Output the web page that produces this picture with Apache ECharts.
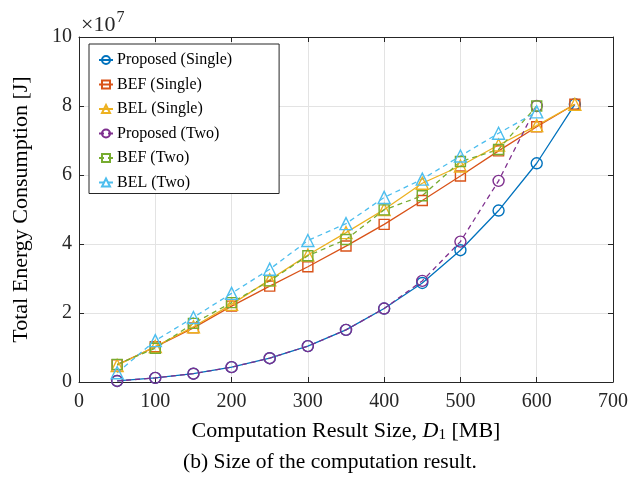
<!DOCTYPE html>
<html>
<head>
<meta charset="utf-8">
<script src="https://cdn.jsdelivr.net/npm/echarts@6/dist/echarts.min.js"></script>
<style>
  html, body { margin: 0; padding: 0; background: #fff; }
  #chart { width: 631px; height: 479px; }
</style>
</head>
<body>
<div id="chart"></div>
<script>
// D1 sizes [MB]
const sizesSingle = [50, 100, 150, 200, 250, 300, 350, 400, 450, 500, 550, 600, 650]
const sizesTwo = [50, 100, 150, 200, 250, 300, 350, 400, 450, 500, 550, 600]

// energy, x 1e7 J
const proposedSingle = [0.03, 0.12, 0.24, 0.43, 0.69, 1.04, 1.51, 2.13, 2.87, 3.82, 4.97, 6.34, 8.05]
const befSingle = [0.50, 1.02, 1.57, 2.20, 2.78, 3.34, 3.94, 4.57, 5.26, 5.97, 6.70, 7.40, 8.05]
const belSingle = [0.48, 1.03, 1.60, 2.25, 2.96, 3.68, 4.33, 5.00, 5.76, 6.26, 6.87, 7.43, 8.05]
const proposedTwo = [0.03, 0.12, 0.24, 0.43, 0.69, 1.04, 1.51, 2.13, 2.93, 4.07, 5.83, 8.00]
const befTwo = [0.51, 0.98, 1.70, 2.30, 2.93, 3.66, 4.13, 4.99, 5.40, 6.39, 6.74, 8.00]
const belTwo = [0.27, 1.20, 1.87, 2.57, 3.27, 4.10, 4.59, 5.35, 5.88, 6.55, 7.21, 7.83]

const xTicks = [0, 100, 200, 300, 400, 500, 600, 700]
const yTicks = [0, 2, 4, 6, 8, 10]

const font = "'Liberation Serif', 'Times New Roman', serif"
const axisColor = '#262626'

const pairs = (xs, ys) => xs.map((x, i) => [x, ys[i]])

const makeSeries = (name, xs, ys, color, symbol, size, dashed) => ({
  name: name,
  type: 'line',
  data: pairs(xs, ys),
  symbol: symbol,
  symbolSize: size,
  showSymbol: true,
  lineStyle: { color: color, width: 1.3, type: dashed ? [5, 4] : 'solid' },
  // hollow markers, line shows through them
  itemStyle: { color: 'rgba(255,255,255,0)', borderColor: color, borderWidth: 1.4 },
  emphasis: { disabled: true },
  animation: false,
  z: 3
})

const chart = echarts.init(document.getElementById('chart'))

const baseX = {
  type: 'value',
  min: xTicks[0],
  max: xTicks[xTicks.length - 1],
  interval: 100,
  axisLine: { show: true, onZero: false, lineStyle: { color: axisColor, width: 1 } },
  axisTick: { show: true, inside: true, length: 5, lineStyle: { color: axisColor } },
  splitLine: { show: false }
}
const baseY = {
  type: 'value',
  min: yTicks[0],
  max: yTicks[yTicks.length - 1],
  interval: 2,
  axisLine: { show: true, onZero: false, lineStyle: { color: axisColor, width: 1 } },
  axisTick: { show: true, inside: true, length: 5, lineStyle: { color: axisColor } },
  splitLine: { show: false }
}

chart.setOption({
  backgroundColor: '#fff',
  animation: false,
  grid: { left: 79, right: 18, top: 37, bottom: 97 },
  legend: {
    left: 89,
    top: 44,
    orient: 'vertical',
    backgroundColor: '#fff',
    borderColor: '#262626',
    borderWidth: 1,
    borderRadius: 0,
    padding: [8, 47, 3, 9],
    itemWidth: 14,
    itemHeight: 10,
    itemGap: 8.5,
    textStyle: { fontFamily: font, fontSize: 16, color: '#000', padding: [0, 0, 0, -1] },
    data: ['Proposed (Single)', 'BEF (Single)', 'BEL (Single)', 'Proposed (Two)', 'BEF (Two)', 'BEL (Two)']
  },
  xAxis: [
    Object.assign({}, baseX, {
      position: 'bottom',
      name: '{n|Computation Result Size, }{i|D}{s|1}{n| [MB]}',
      nameLocation: 'middle',
      nameGap: 38,
      nameTextStyle: {
        rich: {
          n: { fontFamily: font, fontSize: 22, color: '#000' },
          i: { fontFamily: font, fontSize: 22, fontStyle: 'italic', color: '#000' },
          s: { fontFamily: font, fontSize: 15, color: '#000', padding: [8, 0, 0, 0] }
        }
      },
      axisLabel: { fontFamily: font, fontSize: 20, color: '#262626', margin: 10 },
      splitLine: { show: true, lineStyle: { color: '#e3e3e3', width: 1 } }
    }),
    Object.assign({}, baseX, {
      position: 'top',
      axisLabel: { show: false }
    })
  ],
  yAxis: [
    Object.assign({}, baseY, {
      position: 'left',
      name: 'Total Energy Consumption [J]',
      nameLocation: 'middle',
      nameGap: 47,
      nameTextStyle: { fontFamily: font, fontSize: 22, color: '#000' },
      axisLabel: { fontFamily: font, fontSize: 20, color: '#262626', margin: 7 },
      splitLine: { show: true, lineStyle: { color: '#e3e3e3', width: 1 } }
    }),
    Object.assign({}, baseY, {
      position: 'right',
      axisLabel: { show: false }
    })
  ],
  graphic: [
    {
      type: 'text',
      left: 81,
      top: 10,
      style: {
        text: '{a|×10}{b|7}',
        rich: {
          a: { fontFamily: font, fontSize: 22, fill: '#262626', padding: [9, 0, 0, 0] },
          b: { fontFamily: font, fontSize: 16, fill: '#262626', padding: [0, 0, 6, 1] }
        }
      }
    },
    {
      type: 'text',
      left: 183,
      top: 451,
      style: {
        text: '(b) Size of the computation result.',
        fontFamily: font,
        fontSize: 21.5,
        fill: '#000'
      }
    }
  ],
  series: [
    makeSeries('Proposed (Single)', sizesSingle, proposedSingle, '#0072BD', 'circle', 11, false),
    makeSeries('BEF (Single)', sizesSingle, befSingle, '#D95319', 'rect', 10, false),
    makeSeries('BEL (Single)', sizesSingle, belSingle, '#EDB120', 'triangle', 12, false),
    makeSeries('Proposed (Two)', sizesTwo, proposedTwo, '#7E2F8E', 'circle', 11, true),
    makeSeries('BEF (Two)', sizesTwo, befTwo, '#77AC30', 'rect', 10, true),
    makeSeries('BEL (Two)', sizesTwo, belTwo, '#4DBEEE', 'triangle', 12, true)
  ]
})
</script>
</body>
</html>
